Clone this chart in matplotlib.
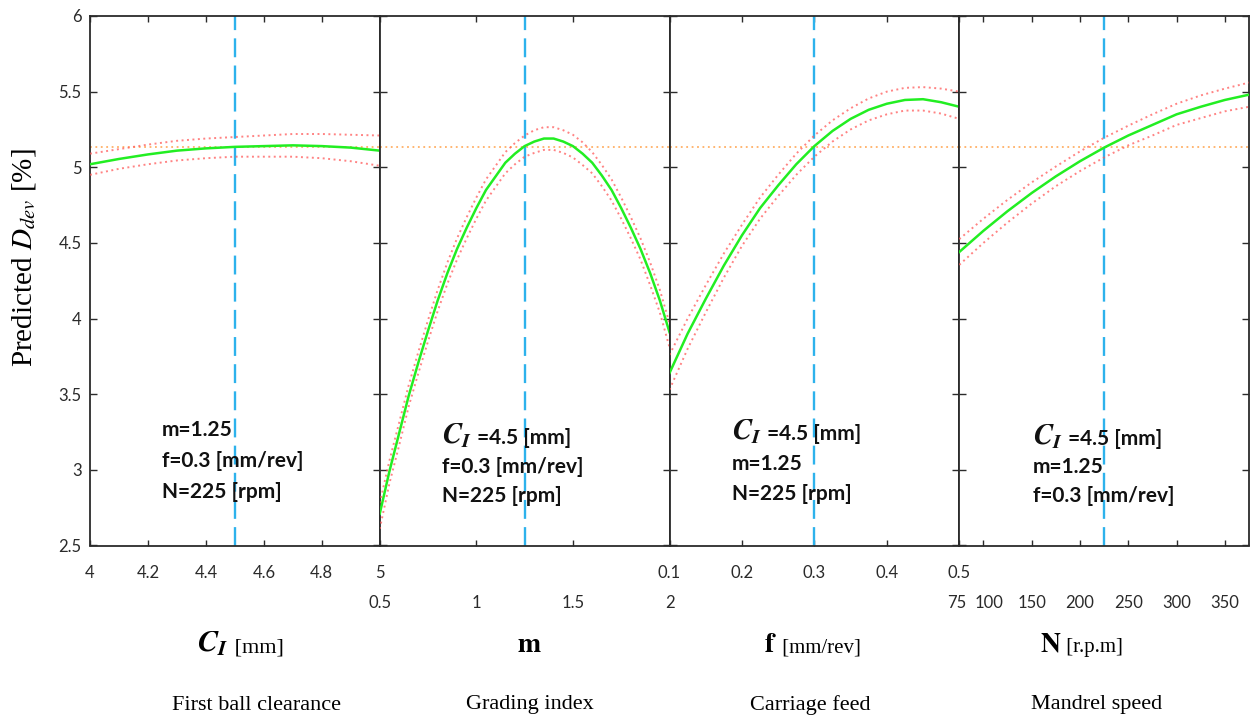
import matplotlib
matplotlib.use("Agg")
import matplotlib.pyplot as plt
from matplotlib.transforms import ScaledTranslation
from matplotlib.text import Annotation

plt.rcParams['mathtext.fontset'] = 'stix'

# ---------------- data ----------------
c1_x  = [4.0, 4.1, 4.2, 4.3, 4.4, 4.5, 4.6, 4.7, 4.8, 4.9, 5.0]
c1_y  = [5.02, 5.055, 5.085, 5.11, 5.125, 5.135, 5.14, 5.145, 5.14, 5.13, 5.11]
c1_up = [5.09, 5.12, 5.15, 5.175, 5.19, 5.20, 5.21, 5.22, 5.22, 5.215, 5.21]
c1_lo = [4.95, 4.99, 5.02, 5.045, 5.06, 5.07, 5.07, 5.07, 5.06, 5.04, 5.01]

m_x  = [0.5, 0.55, 0.6, 0.65, 0.7, 0.75, 0.8, 0.85, 0.9, 0.95, 1.0, 1.05, 1.1, 1.15, 1.2, 1.25,
        1.3, 1.35, 1.4, 1.45, 1.5, 1.55, 1.6, 1.65, 1.7, 1.75, 1.8, 1.85, 1.9, 1.95, 2.0]
m_y  = [2.71, 2.99, 3.24, 3.49, 3.71, 3.92, 4.12, 4.30, 4.46, 4.60, 4.73, 4.85, 4.94, 5.03, 5.09, 5.14,
        5.17, 5.19, 5.19, 5.17, 5.14, 5.09, 5.03, 4.945, 4.85, 4.73, 4.60, 4.46, 4.30, 4.12, 3.91]
m_up = [2.78, 3.06, 3.31, 3.56, 3.78, 3.99, 4.19, 4.37, 4.53, 4.67, 4.80, 4.92, 5.01, 5.10, 5.16, 5.21,
        5.245, 5.265, 5.265, 5.245, 5.215, 5.165, 5.10, 5.015, 4.92, 4.80, 4.67, 4.53, 4.37, 4.19, 3.97]
m_lo = [2.61, 2.91, 3.16, 3.42, 3.64, 3.85, 4.05, 4.23, 4.39, 4.53, 4.66, 4.78, 4.87, 4.96, 5.02, 5.07,
        5.095, 5.115, 5.115, 5.095, 5.065, 5.015, 4.96, 4.875, 4.78, 4.66, 4.53, 4.39, 4.22, 4.04, 3.81]

f_x  = [0.1, 0.125, 0.15, 0.175, 0.2, 0.225, 0.25, 0.275, 0.3, 0.325, 0.35, 0.375, 0.4, 0.425, 0.45, 0.475, 0.5]
f_y  = [3.64, 3.90, 4.13, 4.35, 4.55, 4.73, 4.88, 5.02, 5.14, 5.24, 5.32, 5.38, 5.42, 5.445, 5.45, 5.43, 5.40]
f_up = [3.76, 4.00, 4.22, 4.43, 4.62, 4.80, 4.95, 5.09, 5.21, 5.31, 5.39, 5.455, 5.50, 5.525, 5.53, 5.52, 5.50]
f_lo = [3.53, 3.80, 4.04, 4.27, 4.48, 4.66, 4.81, 4.95, 5.07, 5.17, 5.25, 5.31, 5.35, 5.375, 5.375, 5.355, 5.32]

n_x  = [75, 100, 125, 150, 175, 200, 225, 250, 275, 300, 325, 350, 375]
n_y  = [4.44, 4.58, 4.71, 4.83, 4.94, 5.04, 5.13, 5.21, 5.28, 5.35, 5.40, 5.445, 5.48]
n_up = [4.525, 4.66, 4.785, 4.90, 5.005, 5.105, 5.195, 5.275, 5.35, 5.42, 5.475, 5.52, 5.56]
n_lo = [4.355, 4.50, 4.635, 4.76, 4.875, 4.975, 5.065, 5.145, 5.21, 5.28, 5.325, 5.37, 5.40]

ref_value = 5.135
set_points = [4.5, 1.25, 0.3, 225]
xlims = [(4, 5), (0.5, 2), (0.1, 0.5), (75, 375)]
xticks = [[4, 4.2, 4.4, 4.6, 4.8, 5],
          [0.5, 1, 1.5, 2],
          [0.1, 0.2, 0.3, 0.4, 0.5],
          [75, 100, 150, 200, 250, 300, 350]]
xticklabels = [['4', '4.2', '4.4', '4.6', '4.8', '5'],
               ['0.5', '1', '1.5', '2'],
               ['0.1', '0.2', '0.3', '0.4', '0.5'],
               ['75', '100', '150', '200', '250', '300', '350']]
yticks = [2.5, 3, 3.5, 4, 4.5, 5, 5.5, 6]
yticklabels = ['2.5', '3', '3.5', '4', '4.5', '5', '5.5', '6']

xlabel_parts = [[(r'$\mathbfit{C_I}$', 22), (' [mm]', 16)],
                [(r'$\mathbf{m}$', 20)],
                [(r'$\mathbf{f}$', 20), (' [mm/rev]', 15)],
                [(r'$\mathbf{N}$', 20), (' [r.p.m]', 15)]]
descriptions = ['First ball clearance', 'Grading index', 'Carriage feed', 'Mandrel speed']
annotations = [[None, 'm=1.25', 'f=0.3 [mm/rev]', 'N=225 [rpm]'],
               [' =4.5 [mm]', 'f=0.3 [mm/rev]', 'N=225 [rpm]'],
               [' =4.5 [mm]', 'm=1.25', 'N=225 [rpm]'],
               [' =4.5 [mm]', 'm=1.25', 'f=0.3 [mm/rev]']]

series = [(c1_x, c1_y, c1_up, c1_lo), (m_x, m_y, m_up, m_lo),
          (f_x, f_y, f_up, f_lo), (n_x, n_y, n_up, n_lo)]

# ---------------- layout ----------------
W, H = 1251, 722
fig = plt.figure(figsize=(W / 100, H / 100), dpi=100)
x0, x1 = 90, 1249
ytop, ybot = 16, 545.5
pw = (x1 - x0) / 4

tick_font = 'Lato'
spine_col = '#2b2b2b'
green = '#22EE22'
red = '#FF5A5A'
blue = '#2DB2EC'
orange = '#FFB066'
ann_font = dict(fontsize=15, fontweight='bold', family='Lato', color='#111111')

axes = []
for i in range(4):
    ax = fig.add_axes([(x0 + i * pw) / W, 1 - ybot / H, pw / W, (ybot - ytop) / H])
    axes.append(ax)
    xs, ys, up, lo = series[i]
    ax.axhline(ref_value, color=orange, ls=(0, (1, 2)), lw=1.3, zorder=1)
    ax.axvline(set_points[i], color=blue, ls=(0, (8, 3.5)), lw=1.7, zorder=2)
    ax.plot(xs, up, color=red, ls=(0, (1, 1.8)), lw=1.4, alpha=0.75, zorder=3)
    ax.plot(xs, lo, color=red, ls=(0, (1, 1.8)), lw=1.4, alpha=0.75, zorder=3)
    ax.plot(xs, ys, color=green, lw=1.8, zorder=4)
    ax.set_xlim(*xlims[i])
    ax.set_ylim(2.5, 6)
    ax.set_yticks(yticks)
    ax.set_xticks(xticks[i])
    pad = 14 if i % 2 == 0 else 36
    ax.set_xticklabels(xticklabels[i], fontsize=12, family=tick_font, color='#2a2a2a')
    ax.tick_params(axis='x', direction='in', top=True, bottom=True, length=4,
                   width=1, color=spine_col, pad=pad)
    ax.tick_params(axis='y', direction='in', left=True, right=True, length=5,
                   width=1, color=spine_col, pad=6)
    if i == 0:
        ax.set_yticklabels(yticklabels, fontsize=12, family=tick_font, color='#2a2a2a')
    else:
        ax.set_yticklabels([])
    for s in ax.spines.values():
        s.set_color(spine_col)
        s.set_linewidth(1.3)

# nudge crowded labels of the speed axis
lbls = axes[3].get_xticklabels()
lbls[0].set_transform(lbls[0].get_transform() + ScaledTranslation(-2 / 100, 0, fig.dpi_scale_trans))
lbls[1].set_transform(lbls[1].get_transform() + ScaledTranslation(6 / 100, 0, fig.dpi_scale_trans))

# y label
fig.text(24 / W, 1 - 258 / H, r'Predicted $D_{dev}$ [%]', rotation=90,
         ha='center', va='center', fontsize=21, family='Liberation Serif')


def seg_text(x_px, base_px, parts, ha='left'):
    yb = 1 - base_px / H
    first_txt, first_kw = parts[0]
    t = fig.text(x_px / W, yb, first_txt, ha=ha, va='baseline', zorder=10, **first_kw)
    prev = t
    for txt, kw in parts[1:]:
        ann = Annotation(txt, xy=(1.0, yb), xycoords=(prev, 'figure fraction'),
                         ha='left', va='baseline', annotation_clip=False, **kw)
        ann.set_zorder(10)
        fig.add_artist(ann)
        prev = ann
    return t


# x labels
xl_left = [197, 529, 764, 1040]
for i in range(4):
    parts = [(txt, dict(fontsize=fs, family='Liberation Serif')) for txt, fs in xlabel_parts[i]]
    seg_text(xl_left[i], 652, parts, ha='center' if len(parts) == 1 else 'left')

# descriptions
ds_pos = [257, 530, 810, 1097]
for i in range(4):
    fig.text(ds_pos[i] / W, 1 - 705 / H, descriptions[i], ha='center', va='center',
             fontsize=16, family='Liberation Serif')

# annotations (baselines)
ann_left = [162, 442, 732, 1033]
ann_base = [[436, 467, 498], [444, 473, 502], [440, 470, 500], [445, 473, 502]]
for i in range(4):
    lines = annotations[i]
    if lines[0] is None:
        for k, txt in enumerate(lines[1:]):
            fig.text(ann_left[i] / W, 1 - ann_base[i][k] / H, txt, ha='left', va='baseline',
                     zorder=10, **ann_font)
    else:
        seg_text(ann_left[i], ann_base[i][0],
                 [(r'$\mathbfit{C_I}$', dict(fontsize=21, color='#111111')), (lines[0], ann_font)])
        for k, txt in enumerate(lines[1:]):
            fig.text(ann_left[i] / W, 1 - ann_base[i][k + 1] / H, txt, ha='left', va='baseline',
                     zorder=10, **ann_font)

fig.savefig('out.png', dpi=100)
